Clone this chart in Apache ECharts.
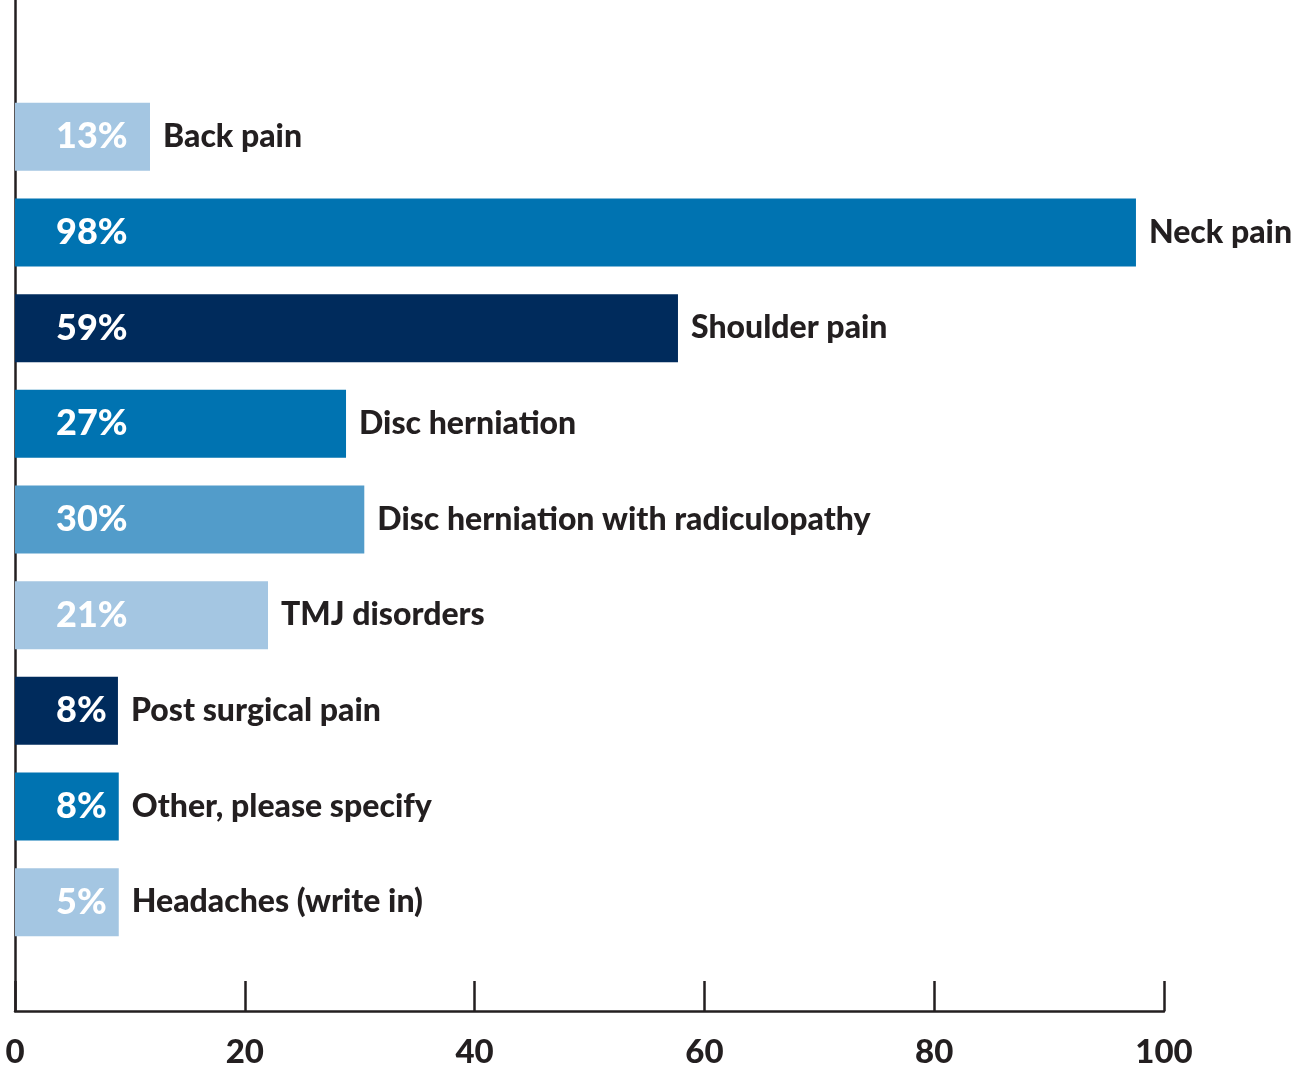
<!DOCTYPE html>
<html>
<head>
<meta charset="utf-8">
<script src="https://cdn.jsdelivr.net/npm/echarts@6/dist/echarts.min.js"></script>
<style>
html,body{margin:0;padding:0;background:#fff;}
#chart{width:1302px;height:1069px;}
</style>
</head>
<body>
<div id="chart"></div>
<script>
// Categories (top to bottom)
const categories = ['Back pain','Neck pain','Shoulder pain','Disc herniation','Disc herniation with radiculopathy','TMJ disorders','Post surgical pain','Other, please specify','Headaches (write in)'];
// Bar lengths as drawn in the picture (axis 0-100)
const barLengths = [11.75, 97.56, 57.7, 28.81, 30.4, 22.02, 8.96, 9.03, 9.03];
// Percentage labels printed on the bars
const percentLabels = ['13%','98%','59%','27%','30%','21%','8%','8%','5%'];
// Bar colours
const barColors = ['#a4c6e2','#0073b1','#002b5c','#0073b1','#529cca','#a4c6e2','#002b5c','#0073b1','#a4c6e2'];
// X axis ticks
const xTicks = [0,20,40,60,80,100];

const FONT = 'Lato';
const TXT = '#231f20';

const chart = echarts.init(document.getElementById('chart'), null, {renderer:'canvas'});
chart.setOption({
  animation:false,
  backgroundColor:'#fff',
  grid:[
    {left:15, width:1149, top:89, height:861},
    {left:15, width:1149, top:0, height:1012}
  ],
  xAxis:[
    {gridIndex:0, type:'value', min:0, max:100, show:false},
    {gridIndex:1, type:'value', min:xTicks[0], max:xTicks[xTicks.length-1], interval:20,
      axisLine:{show:true, lineStyle:{color:TXT, width:2.5}},
      axisTick:{show:true, inside:true, length:30, lineStyle:{color:TXT, width:2.5}},
      splitLine:{show:false},
      axisLabel:{color:TXT, fontFamily:FONT, fontWeight:900, fontSize:33, margin:25}
    }
  ],
  yAxis:[
    {gridIndex:0, type:'category', data:categories, inverse:true, show:false},
    {gridIndex:1, type:'value', min:0, max:1,
      axisLine:{show:true, lineStyle:{color:TXT, width:2.5}},
      axisTick:{show:false}, axisLabel:{show:false}, splitLine:{show:false}
    }
  ],
  series:[
    {
      type:'bar', xAxisIndex:0, yAxisIndex:0, barWidth:68, barGap:'-100%',
      data: barLengths.map((v,i)=>({value:v, itemStyle:{color:barColors[i]}})),
      label:{show:true, position:'insideLeft', distance:41, color:'#fff',
        fontFamily:FONT, fontWeight:900, fontSize:36,
        formatter:(p)=>percentLabels[p.dataIndex]},
      z:3
    },
    {
      type:'bar', xAxisIndex:0, yAxisIndex:0, barWidth:68, barGap:'-100%',
      data: barLengths,
      itemStyle:{color:'rgba(0,0,0,0)'},
      label:{show:true, position:'right', distance:13, color:TXT,
        fontFamily:FONT, fontWeight:900, fontSize:32,
        formatter:(p)=>categories[p.dataIndex]},
      z:4
    }
  ]
});
</script>
</body>
</html>
